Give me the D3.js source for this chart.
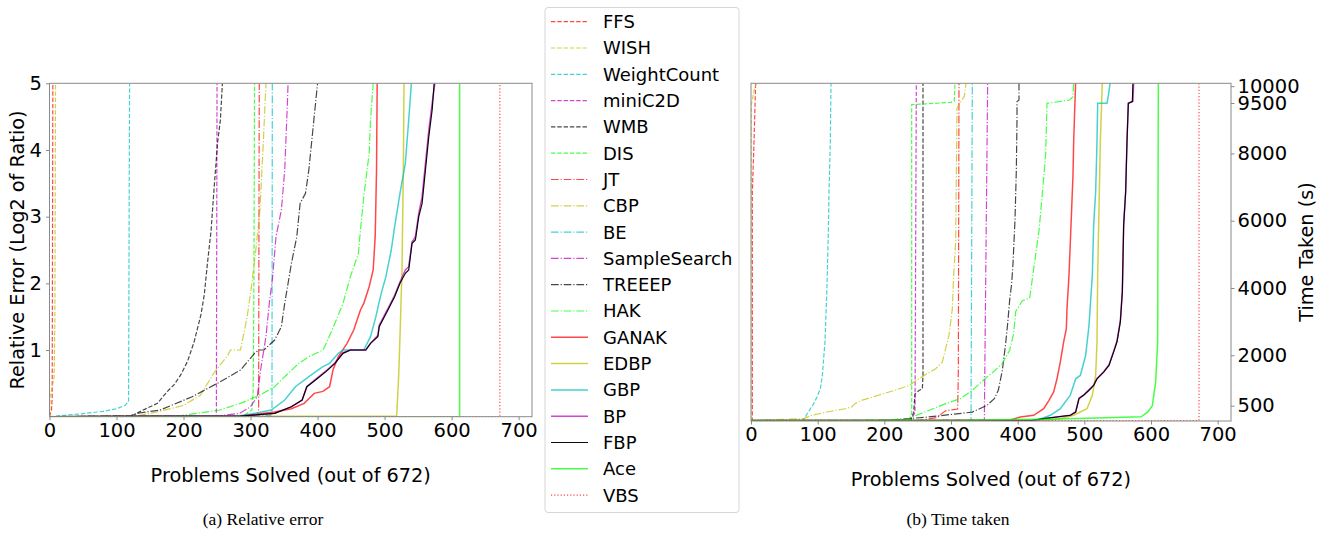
<!DOCTYPE html>
<html>
<head>
<meta charset="utf-8">
<script src="https://cdn.jsdelivr.net/npm/d3@7"></script>
<style>
  body { margin: 0; background: #fff; }
  svg { display: block; }
  text { font-family: "DejaVu Sans", sans-serif; fill: #000; }
</style>
</head>
<body>
<script>
// solvers in legend order
var solvers = ["FFS", "WISH", "WeightCount", "miniC2D", "WMB", "DIS", "JT", "CBP", "BE",
  "SampleSearch", "TREEEP", "HAK", "GANAK", "EDBP", "GBP", "BP", "FBP", "Ace", "VBS"];

var xTicks = [0, 100, 200, 300, 400, 500, 600, 700];
var errTicks = [1, 2, 3, 4, 5];
var timeTicks = [500, 2000, 4000, 6000, 8000, 9500, 10000];

// (a) relative error: [problems solved, log2 ratio]
var err_FFS = [[0, 0], [3, 0.1], [4, 0.3], [5, 5]];
var err_WISH = [[0, 0], [1, 0.3], [7, 0.6], [8, 1.5], [9, 5]];
var err_WeightCount = [[0, 0], [54, 0.05], [80, 0.08], [100, 0.12], [113, 0.17], [118, 0.23], [119.5, 5]];
var err_miniC2D = [[0, 0], [249, 0.01], [250, 5]];
var err_WMB = [[0, 0], [120, 0.01], [126, 0.03], [146, 0.13], [161, 0.2], [176, 0.38], [186, 0.48], [196, 0.63],
  [206, 0.83], [216, 1.13], [226, 1.53], [231, 1.83], [236, 2.33], [241, 2.78], [246, 3.48], [251, 4.13], [255, 4.45], [258, 5]];
var err_DIS = [[0, 0], [290, 0.02], [302, 0.1], [304, 0.4], [305, 2], [306, 5]];
var err_JT = [[0, 0], [310, 0.02], [312, 0.1], [313, 5]];
var err_CBP = [[0, 0], [130, 0.01], [160, 0.07], [200, 0.17], [225, 0.32], [245, 0.65], [266, 0.92], [270, 1.0], [285, 1.0],
  [295, 1.5], [302, 2.0], [309, 2.6], [314, 3.1], [319, 4.1], [323, 5]];
var err_BE = [[0, 0], [330, 0.02], [332, 0.1], [332.5, 5]];
var err_SampleSearch = [[0, 0], [250, 0.01], [284, 0.05], [300, 0.15], [310, 0.3], [315, 0.7], [323, 1.2], [328, 1.7],
  [333, 2.1], [338, 2.7], [346, 3.1], [351, 3.7], [355, 4.7], [356, 5]];
var err_TREEEP = [[0, 0], [120, 0.01], [131, 0.05], [165, 0.1], [182, 0.17], [213, 0.3], [254, 0.52], [285, 0.7], [306, 0.95],
  [312, 1.0], [320, 1.0], [336, 1.15], [346, 1.35], [351, 1.7], [361, 2.3], [369, 2.7], [374, 3.2], [382, 3.35], [387, 3.7],
  [392, 4.2], [397, 4.7], [400, 5]];
var err_HAK = [[0, 0], [192, 0.01], [254, 0.1], [285, 0.2], [315, 0.33], [336, 0.45], [351, 0.6], [372, 0.8], [387, 0.9],
  [408, 1.0], [413, 1.1], [428, 1.45], [438, 1.7], [449, 2.1], [461, 2.45], [464, 2.8], [469, 3.3], [477, 3.95], [479, 4.45], [483, 5]];
var err_GANAK = [[0, 0], [285, 0.01], [336, 0.07], [361, 0.12], [380, 0.2], [390, 0.3], [395, 0.35], [408, 0.38], [418, 0.45],
  [423, 0.7], [431, 0.9], [444, 1.1], [454, 1.3], [464, 1.6], [469, 1.7], [477, 1.95], [483, 2.2], [486, 2.7], [488, 3.7], [489, 5]];
var err_EDBP = [[0, 0], [518, 0.01], [521, 0.6], [523, 1.2], [526, 2.2], [528, 3.7], [529, 5]];
var err_GBP = [[0, 0], [285, 0.01], [331, 0.1], [351, 0.25], [367, 0.45], [387, 0.6], [408, 0.75], [418, 0.8], [431, 0.95],
  [438, 1.0], [469, 1.0], [479, 1.2], [487, 1.5], [495, 1.85], [502, 2.1], [510, 2.5], [515, 2.85], [523, 3.35], [531, 3.8],
  [536, 4.45], [540, 5]];
var err_BP = [[0, 0], [285, 0.01], [336, 0.05], [361, 0.15], [377, 0.25], [384, 0.45], [397, 0.56], [413, 0.69], [426, 0.81],
  [438, 0.96], [449, 1.0], [472, 1.0], [479, 1.1], [490, 1.22], [492, 1.37], [505, 1.62], [515, 1.82], [523, 2.02], [531, 2.2],
  [536, 2.25], [541, 2.62], [546, 2.7], [551, 3.05], [556, 3.3], [561, 3.8], [566, 4.3], [571, 4.7], [575, 5]];
var err_FBP = [[0, 0], [285, 0.01], [336, 0.05], [361, 0.15], [377, 0.25], [384, 0.45], [397, 0.55], [413, 0.68], [426, 0.8],
  [438, 0.95], [449, 1.0], [472, 1.0], [479, 1.1], [490, 1.2], [492, 1.35], [505, 1.6], [515, 1.8], [523, 2.0], [531, 2.15],
  [536, 2.2], [541, 2.6], [546, 2.65], [551, 3.0], [556, 3.2], [561, 3.7], [566, 4.2], [571, 4.6], [574, 5]];
var err_Ace = [[0, 0], [612, 0], [612, 5]];
var err_VBS = [[0, 0], [672, 0], [672, 5]];

// (b) time taken: [problems solved, seconds]
var time_FFS = [[0, 60], [2, 60], [2, 6850], [4, 8000], [6, 9400], [7, 10150]];
var time_WISH = [[0, 60], [0.5, 9450], [5, 9900], [9, 10150]];
var time_WeightCount = [[0, 60], [78, 60], [86, 315], [94, 560], [99, 760], [104, 1000], [107, 1400], [111, 2400], [114, 4080],
  [116, 5670], [117, 6860], [119, 8350], [120, 10150]];
var time_miniC2D = [[0, 60], [240, 70], [246, 300], [248, 10150]];
var time_WMB = [[0, 60], [200, 60], [240, 100], [244, 300], [246, 850], [252, 950], [257, 1000], [258, 1400], [258, 10150]];
var time_DIS = [[0, 60], [200, 60], [238, 80], [241, 300], [241, 9450], [300, 9520], [305, 9560], [306, 10150]];
var time_JT = [[0, 60], [250, 60], [280, 150], [285, 250], [292, 350], [310, 400], [311, 1500], [312, 10150]];
var time_CBP = [[0, 60], [79, 115], [91, 215], [116, 320], [141, 410], [151, 460], [156, 560], [166, 660], [191, 810], [216, 960],
  [237, 1100], [252, 1300], [264, 1450], [277, 1600], [287, 1800], [292, 2200], [297, 2600], [302, 3380], [304, 4380],
  [307, 5370], [308, 7360], [309, 9350], [315, 9550], [320, 9700], [323, 10150]];
var time_BE = [[0, 60], [330, 60], [332, 10150]];
var time_SampleSearch = [[0, 60], [350, 70], [355, 10150]];
var time_TREEEP = [[0, 60], [200, 60], [264, 160], [332, 310], [354, 510], [365, 710], [371, 960], [377, 1550], [382, 2350],
  [385, 2940], [388, 3640], [391, 4130], [393, 4730], [396, 6020], [398, 7500], [399, 9000], [399, 9540], [402, 9590], [402, 10150]];
var time_HAK = [[0, 60], [150, 60], [235, 100], [242, 165], [292, 560], [314, 710], [332, 960], [354, 1355], [362, 1480],
  [377, 1750], [388, 2150], [394, 2640], [397, 3300], [407, 3620], [418, 3700], [425, 4700], [432, 5700], [437, 6800],
  [440, 7500], [442, 8000], [444, 9490], [478, 9590], [483, 9690], [484, 10150]];
var time_GANAK = [[0, 60], [300, 60], [389, 75], [404, 165], [424, 215], [439, 410], [447, 660], [454, 910], [459, 1300],
  [464, 1800], [469, 2400], [473, 2790], [474, 3390], [477, 4380], [479, 5370], [481, 6360], [483, 7360], [484, 8350], [487, 10150]];
var time_EDBP = [[0, 60], [440, 60], [464, 115], [484, 215], [504, 410], [512, 810], [517, 1400], [519, 2400], [520, 4380],
  [522, 6360], [524, 8350], [527, 10150]];
var time_GBP = [[0, 60], [400, 60], [429, 70], [449, 215], [464, 410], [479, 810], [487, 1300], [494, 1400], [502, 2000],
  [507, 2890], [512, 4380], [514, 5870], [517, 6860], [519, 8350], [520, 9490], [534, 9490], [537, 9840], [539, 10150]];
var time_BP = [[0, 60], [420, 60], [439, 115], [479, 215], [487, 320], [492, 720], [499, 820], [507, 970], [514, 1110],
  [519, 1310], [529, 1510], [537, 1720], [544, 2120], [549, 2420], [554, 3020], [557, 3900], [558, 4900], [559, 5890],
  [562, 6880], [564, 8370], [566, 9500], [573, 9550], [574, 10150]];
var time_FBP = [[0, 60], [420, 60], [439, 115], [479, 215], [487, 310], [492, 710], [499, 810], [507, 960], [514, 1100],
  [519, 1300], [529, 1500], [537, 1700], [544, 2100], [549, 2400], [554, 2990], [557, 3880], [558, 4880], [559, 5870],
  [562, 6860], [564, 8350], [566, 9490], [572, 9540], [573, 10150]];
var time_Ace = [[0, 60], [300, 60], [450, 100], [585, 170], [595, 310], [602, 500], [607, 1200], [610, 2400], [611, 10150]];
var time_VBS = [[0, 60], [672, 60], [672, 10150]];

var errSeries = [err_FFS, err_WISH, err_WeightCount, err_miniC2D, err_WMB, err_DIS, err_JT, err_CBP, err_BE,
  err_SampleSearch, err_TREEEP, err_HAK, err_GANAK, err_EDBP, err_GBP, err_BP, err_FBP, err_Ace, err_VBS];
var timeSeries = [time_FFS, time_WISH, time_WeightCount, time_miniC2D, time_WMB, time_DIS, time_JT, time_CBP, time_BE,
  time_SampleSearch, time_TREEEP, time_HAK, time_GANAK, time_EDBP, time_GBP, time_BP, time_FBP, time_Ace, time_VBS];

// matplotlib style single-letter colours, cycled per line style group
var palette = ["#ff0000", "#bfbf00", "#00bfbf", "#bf00bf", "#000000", "#00ff00"];
var dashFor = function (i) {
  if (i < 6) return "4.4,1.9";
  if (i < 12) return "7.7,1.9,1.2,1.9";
  if (i < 18) return null;
  return "1.2,2";
};
var colorFor = function (i) { return i < 18 ? palette[i % 6] : "#ff0000"; };
var widthFor = function (i) { return (i >= 12 && i < 18 && i != 16) ? 1.5 : 1.2; };
var alphaFor = function (i) { return i == 16 ? 0.95 : 0.72; };

var svg = d3.select("body").append("svg").attr("width", 1325).attr("height", 533);

function drawPanel(opts) {
  var x = d3.scaleLinear().domain([0, 720]).range(opts.xr);
  var y = d3.scaleLinear().domain(opts.yd).range(opts.yr);
  var g = svg.append("g");

  g.append("clipPath").attr("id", opts.id)
    .append("rect")
    .attr("x", opts.xr[0]).attr("y", opts.yr[1])
    .attr("width", opts.xr[1] - opts.xr[0]).attr("height", opts.yr[0] - opts.yr[1]);

  var line = d3.line().x(function (d) { return x(d[0]); }).y(function (d) { return y(d[1]); });

  g.append("g").attr("clip-path", "url(#" + opts.id + ")")
    .selectAll("path")
    .data(opts.series)
    .enter()
    .append("path")
    .attr("d", line)
    .attr("fill", "none")
    .attr("stroke", function (d, i) { return colorFor(i); })
    .attr("stroke-width", function (d, i) { return widthFor(i); })
    .attr("stroke-dasharray", function (d, i) { return dashFor(i); })
    .attr("stroke-opacity", function (d, i) { return alphaFor(i); });

  // frame
  g.append("rect")
    .attr("x", opts.xr[0]).attr("y", opts.yr[1])
    .attr("width", opts.xr[1] - opts.xr[0]).attr("height", opts.yr[0] - opts.yr[1])
    .attr("fill", "none").attr("stroke", "#8a8a8a").attr("stroke-width", 1);

  var xAxis = g.append("g")
    .attr("transform", "translate(0," + opts.yr[0] + ")")
    .call(d3.axisBottom(x).tickValues(xTicks).tickFormat(d3.format("d")).tickSize(3.5).tickPadding(3));

  var yAxis = g.append("g");
  if (opts.right) {
    yAxis.attr("transform", "translate(" + opts.xr[1] + ",0)")
      .call(d3.axisRight(y).tickValues(opts.ticks).tickFormat(d3.format("d")).tickSize(3.5).tickPadding(3));
  } else {
    yAxis.attr("transform", "translate(" + opts.xr[0] + ",0)")
      .call(d3.axisLeft(y).tickValues(opts.ticks).tickFormat(d3.format("d")).tickSize(3.5).tickPadding(4));
  }
  [xAxis, yAxis].forEach(function (a) {
    a.select(".domain").remove();
    a.selectAll("line").attr("stroke", "#8a8a8a");
    a.selectAll("text").style("font-size", "19.5px").style("font-family", "DejaVu Sans");
  });

  g.append("text")
    .attr("x", (opts.xr[0] + opts.xr[1]) / 2).attr("y", opts.xlabelY)
    .attr("text-anchor", "middle").style("font-size", "19.3px")
    .text("Problems Solved (out of 672)");

  g.append("text")
    .attr("transform", "translate(" + opts.ylabelX + "," + opts.ylabelCY + ") rotate(-90)")
    .attr("text-anchor", "middle").style("font-size", "19.3px")
    .text(opts.ylabel);

  g.append("text")
    .attr("x", opts.captionX).attr("y", 525)
    .attr("text-anchor", "middle")
    .style("font-family", "Liberation Serif").style("font-size", "17.5px")
    .text(opts.caption);
}

drawPanel({
  id: "clipA", series: errSeries, xr: [49.5, 532], yr: [416.7, 83.3], yd: [0, 5], ticks: errTicks,
  right: false, xlabelY: 482, ylabelX: 24, ylabelCY: 250,
  ylabel: "Relative Error (Log2 of Ratio)", caption: "(a) Relative error", captionX: 263
});

drawPanel({
  id: "clipB", series: timeSeries, xr: [751, 1231], yr: [421, 83.3], yd: [45, 10086], ticks: timeTicks,
  right: true, xlabelY: 486, ylabelX: 1313, ylabelCY: 252,
  ylabel: "Time Taken (s)", caption: "(b) Time taken", captionX: 958
});

// legend between the two panels
var legend = svg.append("g");
legend.append("rect")
  .attr("x", 545).attr("y", 7.5).attr("width", 194).attr("height", 505).attr("rx", 3)
  .attr("fill", "#fff").attr("stroke", "#d6d6d6");

var item = legend.selectAll(".item")
  .data(solvers)
  .enter()
  .append("g")
  .attr("class", "item")
  .attr("transform", function (d, i) { return "translate(0," + (21.7 + i * 26.3) + ")"; });

item.append("line")
  .attr("x1", 551).attr("x2", 588)
  .attr("stroke", function (d, i) { return colorFor(i); })
  .attr("stroke-width", function (d, i) { return widthFor(i); })
  .attr("stroke-dasharray", function (d, i) { return dashFor(i); })
  .attr("stroke-opacity", function (d, i) { return alphaFor(i); });

item.append("text")
  .attr("x", 603).attr("dy", "0.36em")
  .style("font-size", "18px")
  .text(function (d) { return d; });
</script>
</body>
</html>
